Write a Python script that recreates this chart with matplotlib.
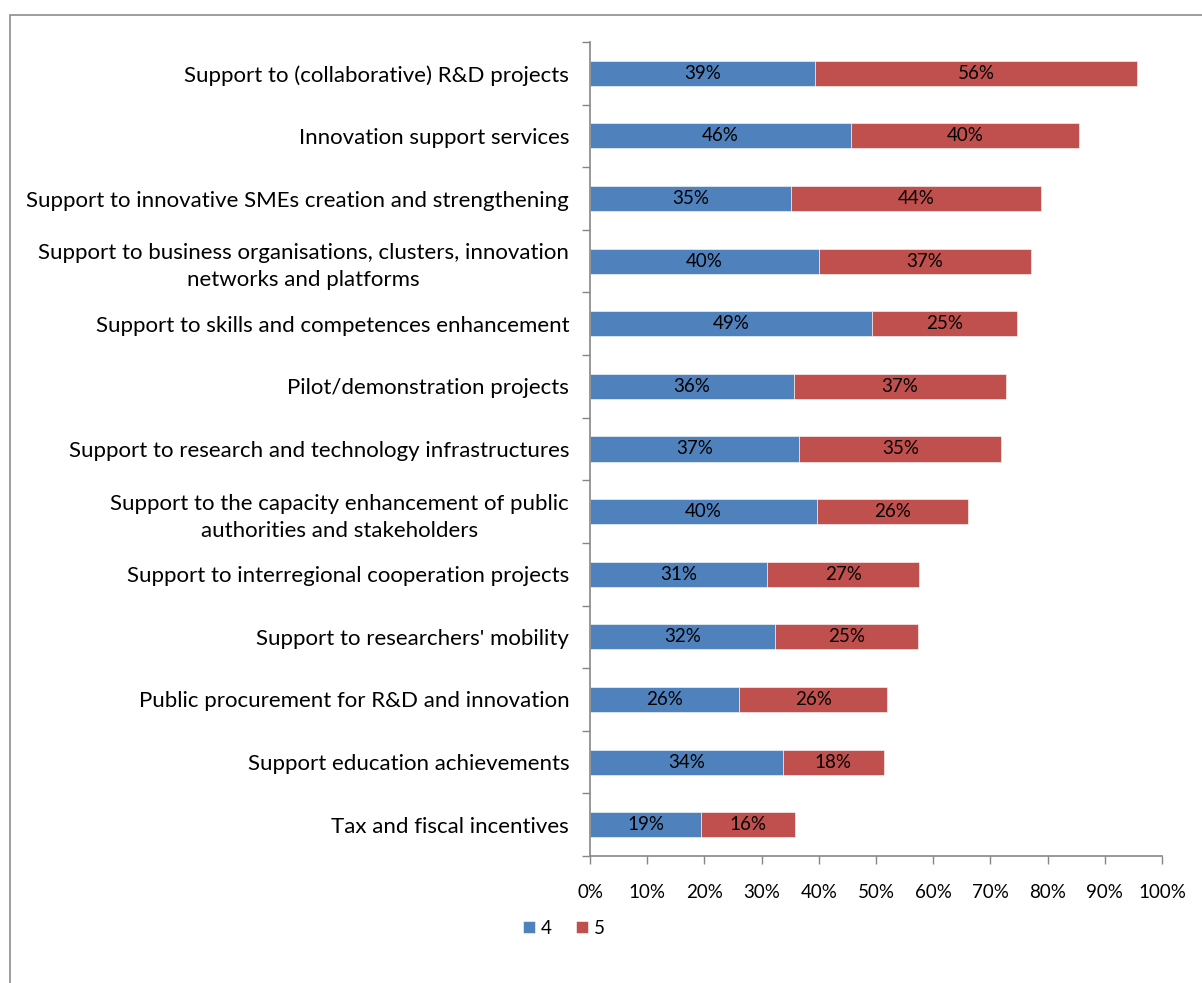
import matplotlib.pyplot as plt
import numpy as np
from matplotlib.patches import Rectangle

categories = [
    "Support to (collaborative) R&D projects",
    "Innovation support services",
    "Support to innovative SMEs creation and strengthening",
    "Support to business organisations, clusters, innovation\nnetworks and platforms",
    "Support to skills and competences enhancement",
    "Pilot/demonstration projects",
    "Support to research and technology infrastructures",
    "Support to the capacity enhancement of public\nauthorities and stakeholders",
    "Support to interregional cooperation projects",
    "Support to researchers' mobility",
    "Public procurement for R&D and innovation",
    "Support education achievements",
    "Tax and fiscal incentives",
]
score_4 = [39.3, 45.6, 35.1, 40.0, 49.3, 35.7, 36.6, 39.7, 30.9, 32.3, 26.0, 33.7, 19.4]
score_5 = [56.4, 39.9, 43.7, 37.1, 25.4, 37.0, 35.3, 26.4, 26.7, 25.0, 26.0, 17.7, 16.4]
x_ticks = [0, 10, 20, 30, 40, 50, 60, 70, 80, 90, 100]

plt.rcParams['font.family'] = ['Lato', 'DejaVu Sans']

blue = '#4f81bd'
red = '#c0504d'
grey = '#868686'

fig = plt.figure(figsize=(12.02, 9.83), dpi=100)
ax = fig.add_axes([590 / 1202, 1 - 856 / 983, 572 / 1202, 814 / 983])

# outer chart frame
fig.patches.append(Rectangle((10 / 1202, -0.1), 1.2, 1 - 15 / 983 + 0.1,
                             transform=fig.transFigure, fill=False,
                             edgecolor='#8c8c8c', linewidth=1.2))

y = np.arange(len(categories))
b4 = ax.barh(y, score_4, height=0.4, color=blue, edgecolor='white', linewidth=0.4, label='4')
b5 = ax.barh(y, score_5, left=score_4, height=0.4, color=red, edgecolor='white', linewidth=0.4, label='5')
ax.bar_label(b4, labels=['%.0f%%' % v for v in score_4], label_type='center', fontsize=13.5)
ax.bar_label(b5, labels=['%.0f%%' % v for v in score_5], label_type='center', fontsize=13.5)

ax.set_xlim(0, 100)
ax.set_ylim(len(categories) - 0.5, -0.5)
ax.set_xticks(x_ticks)
ax.set_xticklabels(['%d%%' % t for t in x_ticks], fontsize=13.5)
ax.set_yticks(y)
ax.set_yticklabels(categories, fontsize=16, ha='right', multialignment='center',
                   linespacing=1.45)
ax.set_yticks(np.arange(-0.5, len(categories)), minor=True)
ax.tick_params(axis='y', which='major', length=0, pad=15)
ax.tick_params(axis='y', which='minor', length=6, color=grey, width=1)
ax.tick_params(axis='x', length=6, color=grey, width=1, pad=14)

for side in ['top', 'right']:
    ax.spines[side].set_visible(False)
for side in ['left', 'bottom']:
    ax.spines[side].set_color(grey)
    ax.spines[side].set_linewidth(1.2)

ax.legend(loc='upper left', bbox_to_anchor=(-0.13, -0.069), ncol=2, frameon=False,
          fontsize=13.5, handlelength=0.65, handleheight=0.65, handletextpad=0.3,
          columnspacing=1.3, borderaxespad=0)

fig.savefig('out.png', dpi=100)
